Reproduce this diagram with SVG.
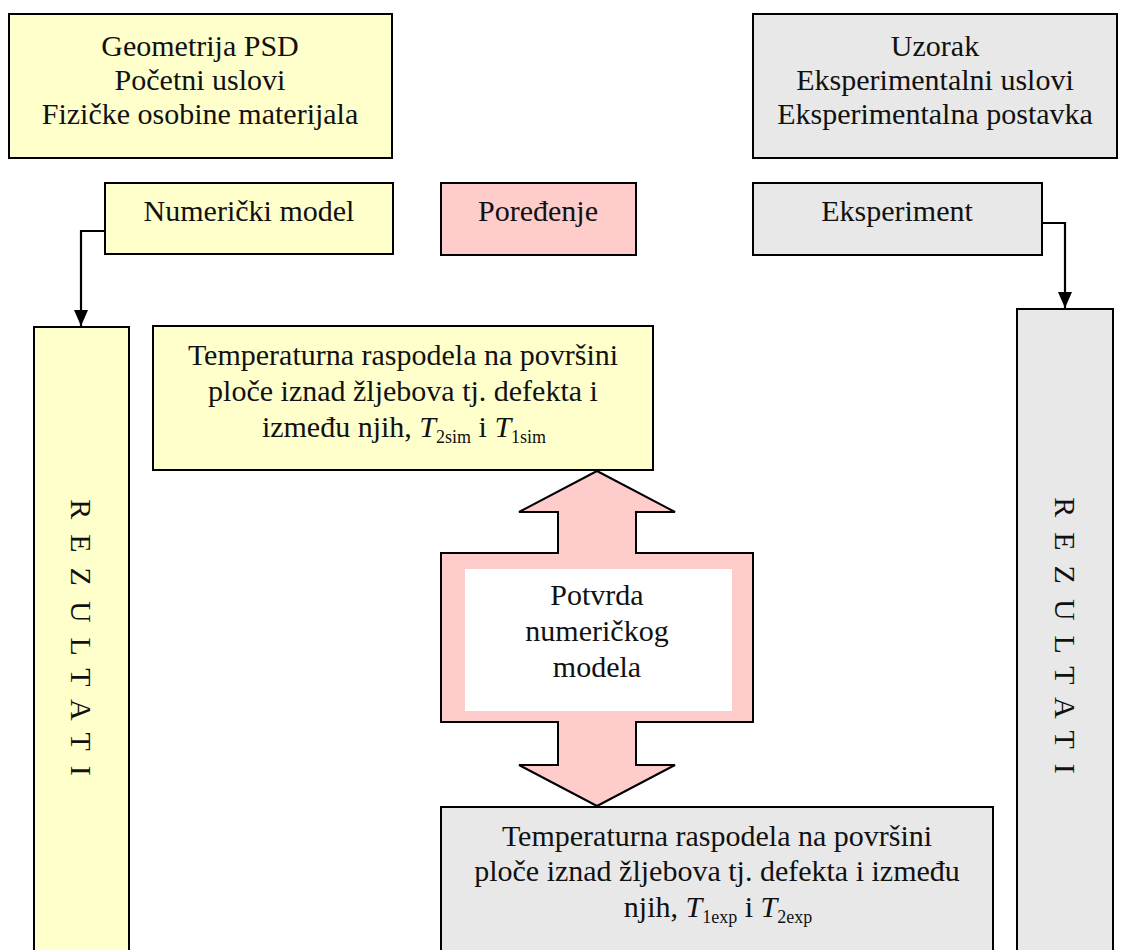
<svg xmlns="http://www.w3.org/2000/svg" width="1124" height="950" viewBox="0 0 1124 950" font-family="'Liberation Serif', 'Times New Roman', serif">
<style>
.y{fill:#FFFFCC;stroke:#000;stroke-width:2}
.g{fill:#E8E8E8;stroke:#000;stroke-width:2}
.p{fill:#FFCCCC;stroke:#000;stroke-width:2}
text{font-family:'Liberation Serif','Times New Roman',serif;font-size:30px;fill:#111;text-anchor:middle}
.sub{font-size:18px}
.it{font-style:italic}
.v{letter-spacing:15px}
.c{fill:none;stroke:#000;stroke-width:2.2}
</style>
<defs>
<marker id="ah" markerWidth="16" markerHeight="14" refX="16" refY="7" orient="auto" markerUnits="userSpaceOnUse" viewBox="0 0 16 14">
<path d="M0,0 L16,7 L0,14 Z" fill="#000"/>
</marker>
</defs>
<rect width="1124" height="950" fill="#fff"/>
<g id="inputs-sim">
<rect class="y" x="9" y="14" width="383" height="144"/>
<text x="200" y="56">Geometrija PSD</text>
<text x="200" y="90">Početni uslovi</text>
<text x="200" y="124">Fizičke osobine materijala</text>
</g>
<g id="inputs-exp">
<rect class="g" x="753" y="14" width="364" height="144"/>
<text x="935" y="56">Uzorak</text>
<text x="935" y="90">Eksperimentalni uslovi</text>
<text x="935" y="124">Eksperimentalna postavka</text>
</g>
<g id="numericki-model">
<rect class="y" x="105" y="183" width="288" height="71"/>
<text x="249" y="221">Numerički model</text>
</g>
<g id="poredjenje">
<rect class="p" x="441" y="183" width="195" height="72"/>
<text x="538" y="221">Poređenje</text>
</g>
<g id="eksperiment">
<rect class="g" x="753" y="183" width="289" height="72"/>
<text x="897" y="221">Eksperiment</text>
</g>
<g id="rezultati-sim">
<rect class="y" x="34" y="327" width="95" height="640"/>
<text class="v" transform="translate(81,645) rotate(90)" y="10">REZULTATI</text>
</g>
<g id="rezultati-exp">
<rect class="g" x="1017" y="309" width="96" height="660"/>
<text class="v" transform="translate(1065,643) rotate(90)" y="10">REZULTATI</text>
</g>
<g id="temp-sim">
<rect class="y" x="153" y="326" width="500" height="144"/>
<text x="403" y="365">Temperaturna raspodela na površini</text>
<text x="403" y="401">ploče iznad žljebova tj. defekta i</text>
<text x="404" y="437">između njih, <tspan class="it">T</tspan><tspan class="sub" dy="6">2sim</tspan><tspan dy="-6"> i </tspan><tspan class="it">T</tspan><tspan class="sub" dy="6">1sim</tspan></text>
</g>
<g id="temp-exp">
<rect class="g" x="441" y="807" width="552" height="160"/>
<text x="717" y="846">Temperaturna raspodela na površini</text>
<text x="717" y="881">ploče iznad žljebova tj. defekta i između</text>
<text x="718" y="917">njih, <tspan class="it">T</tspan><tspan class="sub" dy="6">1exp</tspan><tspan dy="-6"> i </tspan><tspan class="it">T</tspan><tspan class="sub" dy="6">2exp</tspan></text>
</g>
<g id="potvrda">
<polygon class="p" points="597,471 675,512 636,512 636,553 753,553 753,722 636,722 636,765 675,765 597,806 519,765 558,765 558,722 441,722 441,553 558,553 558,512 519,512"/>
<rect x="465" y="569" width="267" height="142" fill="#fff"/>
<text x="597" y="605">Potvrda</text>
<text x="597" y="641">numeričkog</text>
<text x="597" y="677">modela</text>
</g>
<g id="connectors">
<path class="c" d="M105,231 H81 V326" marker-end="url(#ah)"/>
<path class="c" d="M1042,223 H1065 V308" marker-end="url(#ah)"/>
</g>
</svg>
